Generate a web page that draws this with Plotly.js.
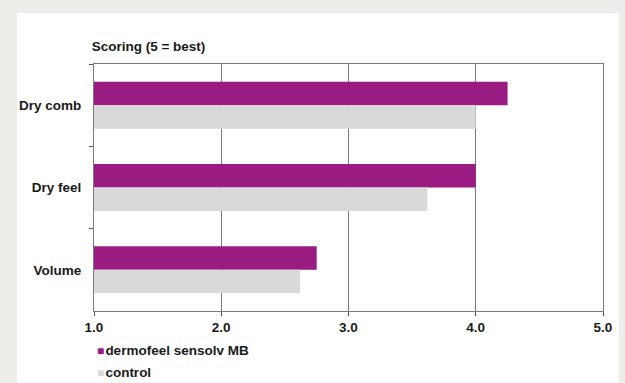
<!DOCTYPE html>
<html>
<head>
<meta charset="utf-8">
<script src="https://cdn.plot.ly/plotly-3.0.1.min.js"></script>
<style>
  html, body { margin: 0; padding: 0; background: #eeede9; width: 625px; height: 383px; overflow: hidden; }
  #chart { position: absolute; left: 17px; top: 13px; width: 602px; height: 370px; background: #ffffff; }
</style>
</head>
<body>
<div id="chart"></div>
<script>
const categories = ["Dry comb", "Dry feel", "Volume"];
const seriesNames = ["dermofeel sensolv MB", "control"];
const seriesColors = ["#9a1b81", "#d9d9d9"];
const dermofeelValues = [4.25, 4.0, 2.75];
const controlValues = [4.0, 3.62, 2.62];
const xTicks = [1, 2, 3, 4, 5];
const xTickLabels = ["1.0", "2.0", "3.0", "4.0", "5.0"];

const FONT = "Liberation Sans, Arial, sans-serif";
const TXT = "#1a1a1a";
const FS = 13.5;

const traces = [
  { type: "bar", orientation: "h", name: seriesNames[0], y: categories, x: dermofeelValues,
    marker: { color: seriesColors[0] }, hoverinfo: "x+y" },
  { type: "bar", orientation: "h", name: seriesNames[1], y: categories, x: controlValues,
    marker: { color: seriesColors[1] }, hoverinfo: "x+y" }
];

// legend drawn as text annotations below the plot (plot spans panel y 51..298)
const PLOT_TOP = 51, PLOT_BOTTOM = 298;
const legendAnnotations = seriesNames.map((name, i) => ({
  xref: "paper", yref: "paper",
  x: 0.002, xanchor: "left",
  y: (PLOT_BOTTOM - (337.7 + i * 21.4)) / (PLOT_BOTTOM - PLOT_TOP), yanchor: "middle",
  showarrow: false, align: "left",
  text: '<span style="color:' + seriesColors[i] + ';font-size:12px">■</span><span style="font-size:4px"> </span>' + name,
  font: { family: FONT, size: FS, color: TXT, weight: "bold" }
}));

const layout = {
  width: 602, height: 370,
  paper_bgcolor: "#ffffff", plot_bgcolor: "#ffffff",
  margin: { l: 77, r: 16, t: PLOT_TOP, b: 370 - PLOT_BOTTOM },
  barmode: "group", bargap: 0.43, bargroupgap: 0,
  font: { family: FONT, size: FS, color: TXT, weight: "bold" },
  title: { text: "Scoring (5 = best)", xref: "container", yref: "container",
           x: 0.124, xanchor: "left", y: 0.909, yanchor: "middle",
           font: { family: FONT, size: FS, color: TXT, weight: "bold" } },
  xaxis: { range: [1, 5], tickvals: xTicks, ticktext: xTickLabels,
           showgrid: true, gridcolor: "#7a7a7a", gridwidth: 1, zeroline: false,
           showline: true, linecolor: "#7a7a7a", linewidth: 1, mirror: true,
           ticks: "outside", ticklen: 4, tickcolor: "#555",
           tickfont: { family: FONT, size: FS, color: TXT, weight: "bold" }, fixedrange: true },
  yaxis: { type: "category", autorange: "reversed", showgrid: false, zeroline: false,
           showline: true, linecolor: "#7a7a7a", linewidth: 1, mirror: true,
           ticks: "outside", tickson: "boundaries", ticklen: 4, tickcolor: "#555",
           ticklabelstandoff: 9,
           tickfont: { family: FONT, size: FS, color: TXT, weight: "bold" }, fixedrange: true },
  showlegend: false,
  annotations: legendAnnotations
};

Plotly.newPlot("chart", traces, layout, { displayModeBar: false, staticPlot: true });
</script>
</body>
</html>
